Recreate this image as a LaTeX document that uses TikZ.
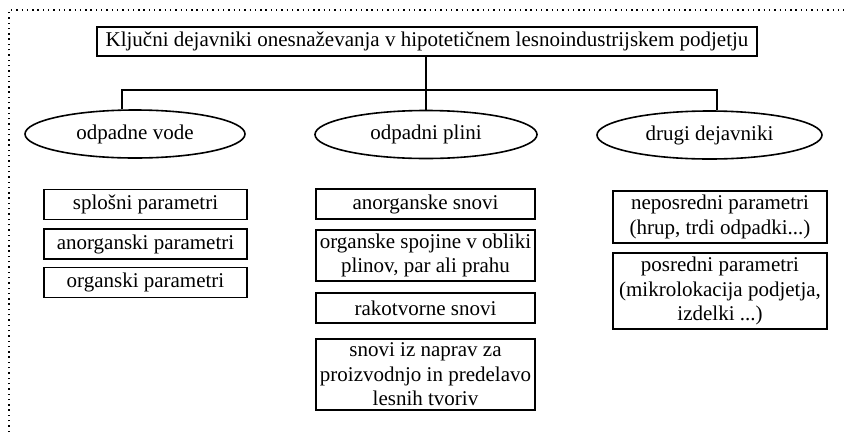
\documentclass[tikz,border=0pt]{standalone}
\usepackage{fontspec}
\setmainfont{Liberation Serif}
\usetikzlibrary{shapes.geometric}
\begin{document}
\begin{tikzpicture}[x=1pt,y=-1pt,line width=1.6pt,
                    font=\fontsize{21}{24.5}\selectfont,
                    okvir/.style={line width=1.4pt,dash pattern=on 1.4pt off 3.9pt},
                    skatla/.style={draw,align=center,inner xsep=2pt,inner ysep=4pt,minimum height=30pt},
                    jajce/.style={draw,ellipse,inner sep=0pt,minimum height=48pt}]
                \useasboundingbox (0,0) rectangle (844,432);
                \draw[okvir] (9,432) -- (9,10) -- (844,10);
                \node[skatla,minimum width=660pt,minimum height=29pt] (naslov) at (427,41.5)
                    {Ključni dejavniki onesnaževanja v hipotetičnem lesnoindustrijskem podjetju};
                \node[jajce,minimum width=220pt] (vode) at (135,134) {odpadne vode};
                \node[jajce,minimum width=222pt] (plini) at (426,134.5) {odpadni plini};
                \node[jajce,minimum width=225pt] (drugi) at (709.5,135) {drugi dejavniki};
                \coordinate (levo) at (122,90);
                \coordinate (desno) at (717,90);
                \draw (naslov.south -| plini.north) -- (plini.north);
                \draw (vode.north -| levo) -- (levo) -- (desno) -- (drugi.north -| desno);
                \node[skatla,minimum width=203pt] (splosni) at (145.5,204.5) {splošni parametri};
                \node[skatla,minimum width=203pt] (anorgpar) at (145.5,244) {anorganski parametri};
                \node[skatla,minimum width=203pt] (orgpar) at (145.5,282.5) {organski parametri};
                \node[skatla,minimum width=219pt] (anorgsnovi) at (425.5,204) {anorganske snovi};
                \node[skatla,minimum width=219pt] (spojine) at (425.5,255.5) {organske spojine v obliki\\plinov, par ali prahu};
                \node[skatla,minimum width=219pt] (rakotvorne) at (425.5,308) {rakotvorne snovi};
                \node[skatla,minimum width=219pt] (naprave) at (425.5,374.5) {snovi iz naprav za\\proizvodnjo in predelavo\\lesnih tvoriv};
                \node[skatla,minimum width=214pt] (neposredni) at (720,217) {neposredni parametri\\(hrup, trdi odpadki...)};
                \node[skatla,minimum width=214pt] (posredni) at (720,291) {posredni parametri\\(mikrolokacija podjetja,\\izdelki ...)};
            \end{tikzpicture}
\end{document}
